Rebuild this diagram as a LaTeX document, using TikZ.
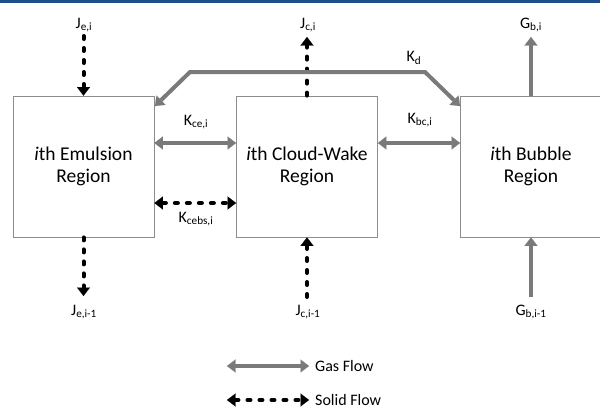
\documentclass[tikz,border=0pt]{standalone}
\usepackage{fontspec}
\setmainfont{Carlito}
\usetikzlibrary{arrows.meta,calc}
\definecolor{gasgray}{HTML}{7A7A7A}
\definecolor{boxgray}{HTML}{8C8C8C}
\definecolor{rulebl}{HTML}{1F4E89}

\begin{document}
\begin{tikzpicture}[x=1pt,y=-1pt,
  >={Triangle[width=13pt,length=8.5pt,line width=0.1pt]},
  region/.style={draw=boxgray,line width=0.8pt,minimum width=141pt,minimum height=141pt,
    inner sep=0pt,align=center,font=\fontsize{19.5}{22}\selectfont},
  lbl/.style={inner sep=0pt,font=\fontsize{16}{18}\selectfont},
  legendtext/.style={anchor=west,inner sep=0pt,font=\fontsize{16}{18}\selectfont},
  gas/.style={draw=gasgray,line width=4pt},
  solidflow/.style={draw=black,line width=4pt,dash pattern=on 3pt off 9pt,line cap=round}]

\useasboundingbox (0,0) rectangle (600,410);
\fill[rulebl] (0,0) rectangle (600,3);

% the three regions of stage i
\node[region] (em) at (83.5,166.5) {\textit{i}th Emulsion\\Region};
\node[region] (cw) at (307,166.5) {\textit{i}th Cloud-Wake\\Region};
\node[region] (bb) at (531,166.5) {\textit{i}th Bubble\\Region};

% free ends of the vertical flows
\coordinate (jeiT) at (83.5,36);
\coordinate (jeiB) at (83.5,296);
\coordinate (jciT) at (307,37);
\coordinate (jciB) at (307,297);
\coordinate (gbiT) at (531,37);
\coordinate (gbiB) at (531,297);

% labels
\node[lbl] (lJei)  at (84,25) {J\textsubscript{e,i}};
\node[lbl] (lJei1) at (84,312) {J\textsubscript{e,i-1}};
\node[lbl] (lJci)  at (308,25) {J\textsubscript{c,i}};
\node[lbl] (lJci1) at (308,312) {J\textsubscript{c,i-1}};
\node[lbl] (lGbi)  at (531,25) {G\textsubscript{b,i}};
\node[lbl] (lGbi1) at (531,312) {G\textsubscript{b,i-1}};
\node[lbl] (lKce)  at (196,122) {K\textsubscript{ce,i}};
\node[lbl] (lKcebs) at (196,219) {K\textsubscript{cebs,i}};
\node[lbl] (lKbc)  at (420,120) {K\textsubscript{bc,i}};
\node[lbl] (lKd)   at (414,58) {K\textsubscript{d}};

% vertical solid flows
\draw[solidflow,->] (jeiT) -- (em.north);
\draw[solidflow,->] (em.south) -- (jeiB);
\draw[solidflow,->] (cw.north) -- (jciT);
\draw[solidflow,->] (jciB) -- (cw.south);

% vertical gas flows
\draw[gas,->] (bb.north) -- (gbiT);
\draw[gas,->] (gbiB) -- (bb.south);

% exchange between regions
\draw[gas,<->] (em.east |- 0,143) -- (cw.west |- 0,143);
\draw[solidflow,<->] (em.east |- 0,203) -- (cw.west |- 0,203);
\draw[gas,<->] (cw.east |- 0,143) -- (bb.west |- 0,143);
\draw[gas,<->,line join=miter] ($(em.north east)+(0.5,10.5)$) -- (190,72) -- (425,72)
  -- ($(bb.north west)+(0,10.5)$);

% legend
\coordinate (gl1) at (227,366);
\coordinate (gl2) at (309,366);
\coordinate (sl1) at (227,400);
\coordinate (sl2) at (309,400);
\draw[gas,<->] (gl1) -- (gl2);
\draw[solidflow,<->] (sl1) -- (sl2);
\node[legendtext] (lgas) at (315,366) {Gas Flow};
\node[legendtext] (lsolid) at (315,400) {Solid Flow};
\end{tikzpicture}
\end{document}
